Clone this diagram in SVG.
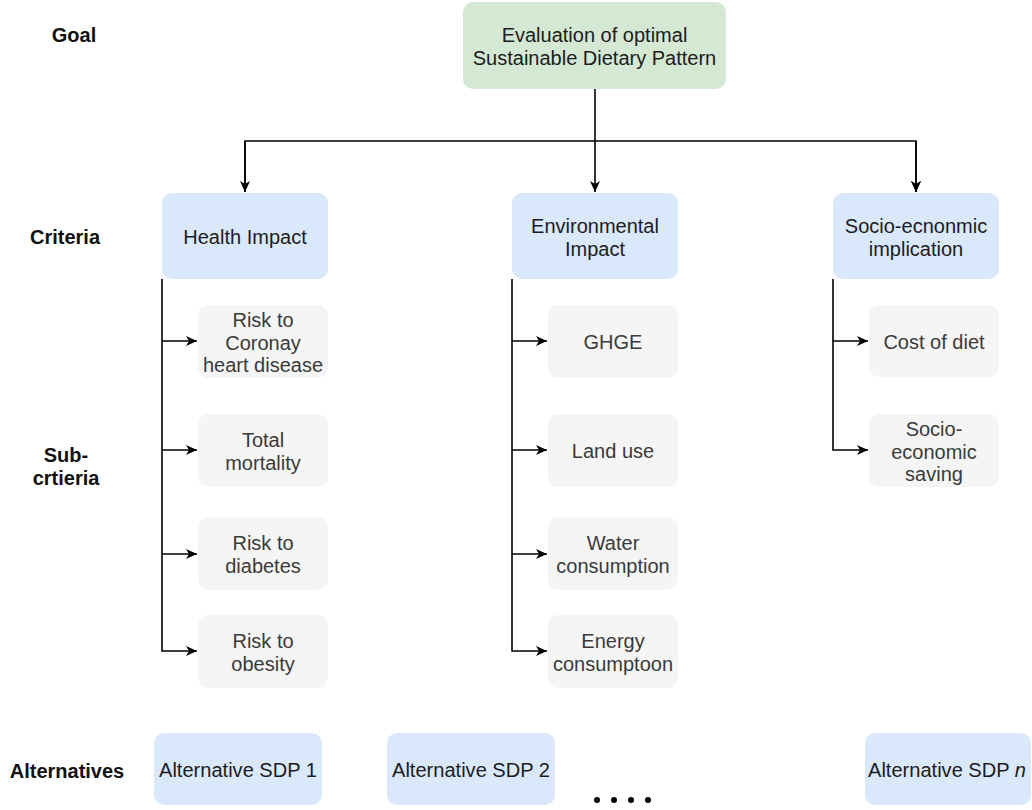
<svg xmlns="http://www.w3.org/2000/svg" width="1032" height="810" viewBox="0 0 1032 810">
  <style>
    .goal { fill: #d5e8d4; }
    .crit { fill: #dae8fc; }
    .sub { fill: #f5f5f5; }
    .alt { fill: #dae8fc; }
    text { font-family: "Liberation Sans", Arial, sans-serif; font-size: 20px; text-anchor: middle; }
    .t-dark { fill: #1c1c1c; }
    .t-sub { fill: #3a3a3a; }
    .lbl { font-weight: bold; fill: #111; }
    .edge { fill: none; stroke: #000; stroke-width: 1.6; }
  </style>
  <defs>
    <marker id="arrow" markerUnits="userSpaceOnUse" markerWidth="12" markerHeight="10" refX="11" refY="5" orient="auto">
      <path d="M0,0 L11,5 L0,10 L3,5 z" fill="#000"/>
    </marker>
  </defs>
  <rect width="1032" height="810" fill="#ffffff"/>

  <!-- level labels -->
  <g id="labels">
    <text class="lbl" x="74" y="42">Goal</text>
    <text class="lbl" x="65" y="244">Criteria</text>
    <text class="lbl" x="66" y="462">Sub-</text>
    <text class="lbl" x="66" y="485">crtieria</text>
    <text class="lbl" x="67" y="778">Alternatives</text>
  </g>

  <!-- connectors -->
  <g id="connectors">
    <line class="edge" x1="595" y1="89" x2="595" y2="192" marker-end="url(#arrow)"/>
    <polyline class="edge" points="245,192 245,141 916,141 916,192" marker-end="url(#arrow)"/>
    <line class="edge" x1="245" y1="141" x2="245" y2="192" marker-end="url(#arrow)"/>
    <line class="edge" x1="916" y1="141" x2="916" y2="192" marker-end="url(#arrow)"/>

    <!-- health branch -->
    <polyline class="edge" points="162,279 162,651 197,651" marker-end="url(#arrow)"/>
    <line class="edge" x1="162" y1="341" x2="197" y2="341" marker-end="url(#arrow)"/>
    <line class="edge" x1="162" y1="450" x2="197" y2="450" marker-end="url(#arrow)"/>
    <line class="edge" x1="162" y1="554" x2="197" y2="554" marker-end="url(#arrow)"/>

    <!-- environmental branch -->
    <polyline class="edge" points="512,279 512,651 547,651" marker-end="url(#arrow)"/>
    <line class="edge" x1="512" y1="341" x2="547" y2="341" marker-end="url(#arrow)"/>
    <line class="edge" x1="512" y1="450" x2="547" y2="450" marker-end="url(#arrow)"/>
    <line class="edge" x1="512" y1="554" x2="547" y2="554" marker-end="url(#arrow)"/>

    <!-- socio-economic branch -->
    <polyline class="edge" points="833,279 833,450 868,450" marker-end="url(#arrow)"/>
    <line class="edge" x1="833" y1="341" x2="868" y2="341" marker-end="url(#arrow)"/>
  </g>

  <!-- goal -->
  <g id="goal">
    <rect class="goal" x="463" y="2" width="263" height="87" rx="10"/>
    <text class="t-dark" x="594.5" y="42">Evaluation of optimal</text>
    <text class="t-dark" x="594.5" y="65">Sustainable Dietary Pattern</text>
  </g>

  <!-- criteria -->
  <g id="crit-health">
    <rect class="crit" x="162" y="193" width="166" height="86" rx="10"/>
    <text class="t-dark" x="245" y="244">Health Impact</text>
  </g>
  <g id="crit-env">
    <rect class="crit" x="512" y="193" width="166" height="86" rx="10"/>
    <text class="t-dark" x="595" y="233">Environmental</text>
    <text class="t-dark" x="595" y="256">Impact</text>
  </g>
  <g id="crit-socio">
    <rect class="crit" x="833" y="193" width="166" height="86" rx="10"/>
    <text class="t-dark" x="916" y="233">Socio-ecnonmic</text>
    <text class="t-dark" x="916" y="256">implication</text>
  </g>

  <!-- health sub-criteria -->
  <g id="sub-chd">
    <rect class="sub" x="198" y="305" width="130" height="73" rx="10"/>
    <text class="t-sub" x="263" y="327">Risk to</text>
    <text class="t-sub" x="263" y="350">Coronay</text>
    <text class="t-sub" x="263" y="372">heart disease</text>
  </g>
  <g id="sub-mortality">
    <rect class="sub" x="198" y="414" width="130" height="73" rx="10"/>
    <text class="t-sub" x="263" y="447">Total</text>
    <text class="t-sub" x="263" y="470">mortality</text>
  </g>
  <g id="sub-diabetes">
    <rect class="sub" x="198" y="517" width="130" height="73" rx="10"/>
    <text class="t-sub" x="263" y="550">Risk to</text>
    <text class="t-sub" x="263" y="573">diabetes</text>
  </g>
  <g id="sub-obesity">
    <rect class="sub" x="198" y="615" width="130" height="73" rx="10"/>
    <text class="t-sub" x="263" y="648">Risk to</text>
    <text class="t-sub" x="263" y="671">obesity</text>
  </g>

  <!-- environmental sub-criteria -->
  <g id="sub-ghge">
    <rect class="sub" x="548" y="305" width="130" height="73" rx="10"/>
    <text class="t-sub" x="613" y="349">GHGE</text>
  </g>
  <g id="sub-land">
    <rect class="sub" x="548" y="414" width="130" height="73" rx="10"/>
    <text class="t-sub" x="613" y="458">Land use</text>
  </g>
  <g id="sub-water">
    <rect class="sub" x="548" y="517" width="130" height="73" rx="10"/>
    <text class="t-sub" x="613" y="550">Water</text>
    <text class="t-sub" x="613" y="573">consumption</text>
  </g>
  <g id="sub-energy">
    <rect class="sub" x="548" y="615" width="130" height="73" rx="10"/>
    <text class="t-sub" x="613" y="648">Energy</text>
    <text class="t-sub" x="613" y="671">consumptoon</text>
  </g>

  <!-- socio-economic sub-criteria -->
  <g id="sub-cost">
    <rect class="sub" x="869" y="305" width="130" height="72" rx="10"/>
    <text class="t-sub" x="934" y="349">Cost of diet</text>
  </g>
  <g id="sub-saving">
    <rect class="sub" x="869" y="414" width="130" height="73" rx="10"/>
    <text class="t-sub" x="934" y="436">Socio-</text>
    <text class="t-sub" x="934" y="459">economic</text>
    <text class="t-sub" x="934" y="481">saving</text>
  </g>

  <!-- alternatives -->
  <g id="alt-1">
    <rect class="alt" x="154" y="733" width="168" height="72" rx="10"/>
    <text class="t-dark" x="238" y="777" textLength="158" lengthAdjust="spacingAndGlyphs">Alternative SDP 1</text>
  </g>
  <g id="alt-2">
    <rect class="alt" x="387" y="733" width="168" height="72" rx="10"/>
    <text class="t-dark" x="471" y="777" textLength="158" lengthAdjust="spacingAndGlyphs">Alternative SDP 2</text>
  </g>
  <g id="alt-dots" fill="#000">
    <circle cx="597" cy="800" r="3"/>
    <circle cx="614" cy="800" r="3"/>
    <circle cx="631" cy="800" r="3"/>
    <circle cx="648" cy="800" r="3"/>
  </g>
  <g id="alt-n">
    <rect class="alt" x="865" y="733" width="166" height="72" rx="10"/>
    <text class="t-dark" x="947" y="777" textLength="158" lengthAdjust="spacingAndGlyphs">Alternative SDP <tspan font-style="italic">n</tspan></text>
  </g>
</svg>
